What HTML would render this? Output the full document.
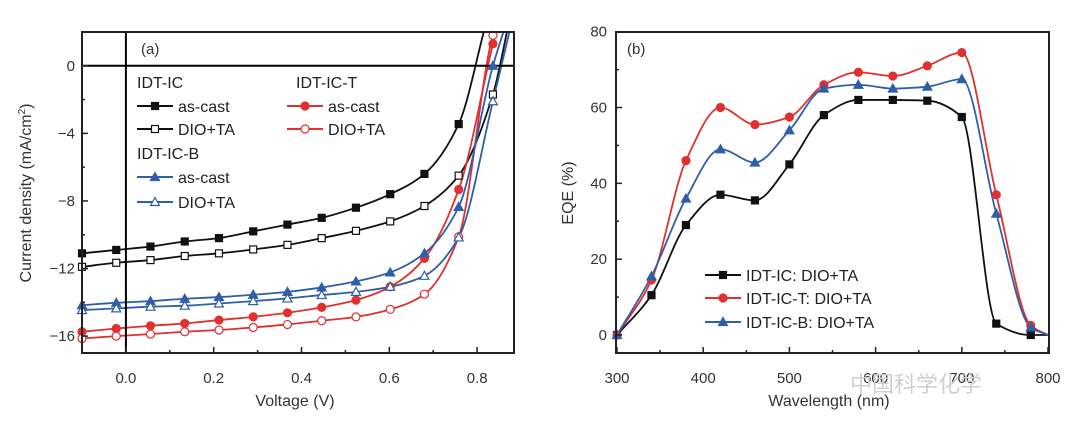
<!DOCTYPE html>
<html><head><meta charset="utf-8"><style>
body{margin:0;background:#fff;}
svg{display:block;font-family:"Liberation Sans","Noto Sans CJK SC",sans-serif;}
</style></head><body>
<svg id="chart" width="1080" height="433" viewBox="0 0 1080 433">
<rect x="0" y="0" width="1080" height="433" fill="#fff"/>
<g id="pa"></g>
<g id="pb"></g>
<text x="850" y="392" font-size="22" fill="#cfcfcf">中国科学化学</text>
</svg>
<script>
// Panel (a) data
const vMarkers = [-0.1,-0.022,0.056,0.134,0.212,0.29,0.368,0.446,0.524,0.602,0.68,0.758,0.836];
const jIcCast = [-11.1,-10.9,-10.7,-10.4,-10.2,-9.8,-9.4,-9.0,-8.4,-7.6,-6.4,-3.45];
const jIcDio = [-11.9,-11.66,-11.5,-11.26,-11.1,-10.87,-10.6,-10.2,-9.77,-9.21,-8.3,-6.5,-1.7];
const jTCast = [-15.74,-15.55,-15.39,-15.25,-15.05,-14.86,-14.62,-14.3,-13.87,-13.08,-11.4,-7.32,1.3];
const jTDio = [-16.14,-16.0,-15.88,-15.74,-15.64,-15.49,-15.31,-15.09,-14.86,-14.42,-13.52,-10.12,1.8];
const jBCast = [-14.17,-14.03,-13.93,-13.79,-13.69,-13.55,-13.38,-13.12,-12.76,-12.23,-11.1,-8.35,0];
const jBDio = [-14.46,-14.36,-14.26,-14.2,-14.07,-13.93,-13.77,-13.57,-13.38,-13.08,-12.43,-10.16,-2.1];
const tailV = [0.82,0.872,0.852,0.854,0.866,0.878];
const tailJ = [2.5,2.5,3,3,2.5,2.5];
const aXTicks = [0.0,0.2,0.4,0.6,0.8];
const aYTicks = [0,-4,-8,-12,-16];
// Panel (b) data
const wl = [300,340,380,420,460,500,540,580,620,660,700,740,780,800];
const eqeIc = [0,10.5,29,37,35.5,45,58,62,62,61.8,57.5,3,0,0];
const eqeT = [0,14.5,46,60,55.5,57.5,66,69.3,68.3,71,74.5,37,2.5,0];
const eqeB = [0,15.5,36,49,45.5,54,65,66,65,65.5,67.5,32,2,0];
const bXTicks = [300,400,500,600,700,800];
const bYTicks = [0,20,40,60,80];

const NS="http://www.w3.org/2000/svg";
function mk(parent,tag,attrs){const e=document.createElementNS(NS,tag);for(const k in attrs)e.setAttribute(k,attrs[k]);parent.appendChild(e);return e;}
function smooth(pts){
  const n=pts.length;const d=[],m=[];
  for(let i=0;i<n-1;i++)d.push((pts[i+1][1]-pts[i][1])/(pts[i+1][0]-pts[i][0]));
  for(let i=0;i<n;i++){
    if(i===0)m.push(d[0]);else if(i===n-1)m.push(d[n-2]);
    else if(d[i-1]*d[i]<=0)m.push(0);
    else{const h0=pts[i][0]-pts[i-1][0],h1=pts[i+1][0]-pts[i][0];const w1=2*h1+h0,w2=h1+2*h0;m.push((w1+w2)/(w1/d[i-1]+w2/d[i]));}
  }
  let s=`M${pts[0][0]},${pts[0][1]}`;
  for(let i=0;i<n-1;i++){const h=(pts[i+1][0]-pts[i][0])/3;
    s+=` C${pts[i][0]+h},${pts[i][1]+m[i]*h} ${pts[i+1][0]-h},${pts[i+1][1]-m[i+1]*h} ${pts[i+1][0]},${pts[i+1][1]}`;}
  return s;
}
function marker(g,type,x,y,color,filled){
  const f=filled?color:"#fff";let e;
  if(type==="sq") e=mk(g,"rect",{x:x-3.5,y:y-3.5,width:7,height:7,fill:f,stroke:color,"stroke-width":1.2});
  else if(type==="ci") e=mk(g,"circle",{cx:x,cy:y,r:4,fill:f,stroke:color,"stroke-width":1.2});
  else e=mk(g,"polygon",{points:`${x},${y-4.5} ${x+4.5},${y+3.5} ${x-4.5},${y+3.5}`,fill:f,stroke:color,"stroke-width":1.2});
  return e;
}
const BLK="#111",RED="#e03030",BLU="#2f5fa8";

// ---------- Panel A ----------
const A={l:82,r:514,t:32,b:353};
const ax=v=>A.l+(v-(-0.1))/(0.884+0.1)*(A.r-A.l);
const ay=j=>A.t+(2-j)/19*(A.b-A.t);
const pa=document.getElementById("pa");
mk(pa,"defs",{}).innerHTML='<clipPath id="clipA"><rect x="82" y="32" width="432" height="321"/></clipPath><clipPath id="clipB"><rect x="616" y="32" width="433" height="321"/></clipPath>';
const seriesA=[[jIcCast,BLK,"sq",true,0,"ic-as-cast"],[jIcDio,BLK,"sq",false,1,"ic-dio-ta"],[jTCast,RED,"ci",true,2,"ic-t-as-cast"],[jTDio,RED,"ci",false,3,"ic-t-dio-ta"],[jBCast,BLU,"tr",true,4,"ic-b-as-cast"],[jBDio,BLU,"tr",false,5,"ic-b-dio-ta"]];
const ga=mk(pa,"g",{"clip-path":"url(#clipA)"});
seriesA.forEach(([js,c,t,f,ti,nm])=>{
  const pts=js.map((j,i)=>[ax(vMarkers[i]),ay(j)]);pts.push([ax(tailV[ti]),ay(tailJ[ti])]);
  const p=mk(ga,"path",{d:smooth(pts),fill:"none",stroke:c,"stroke-width":1.8});
  
  
});
mk(pa,"line",{x1:ax(0),x2:ax(0),y1:A.t,y2:A.b,stroke:"#000","stroke-width":2});
mk(pa,"line",{x1:A.l,x2:A.r,y1:ay(0),y2:ay(0),stroke:"#000","stroke-width":2});
seriesA.forEach(([js,c,t,f,ti,nm])=>{js.forEach((j,i)=>{const m=marker(pa,t,ax(vMarkers[i]),ay(j),c,f);
  
  });});
mk(pa,"rect",{x:A.l,y:A.t,width:A.r-A.l,height:A.b-A.t,fill:"none",stroke:"#222","stroke-width":2});
for(let v=-0.1;v<=0.88;v+=0.1){const x=ax(v);const maj=Math.abs(Math.round(v*10)%2)===0;mk(pa,"line",{x1:x,x2:x,y1:A.b,y2:A.b-(maj?6:3),stroke:"#222","stroke-width":1.5});}
for(let j=-16;j<=2;j+=2){const y=ay(j);mk(pa,"line",{x1:A.l,x2:A.l+(j%4===0?6:3),y1:y,y2:y,stroke:"#222","stroke-width":1.5});}
aXTicks.forEach(v=>{const t=mk(pa,"text",{x:ax(v),y:383,"font-size":15,"text-anchor":"middle",fill:"#333"});t.textContent=v.toFixed(1);
  
  });
aYTicks.forEach(j=>{const t=mk(pa,"text",{x:75,y:ay(j)+5,"font-size":15,"text-anchor":"end",fill:"#333"});t.textContent=j===0?"0":"−"+(-j);
  
  });
let tt=mk(pa,"text",{x:295,y:406,"font-size":16,"text-anchor":"middle",fill:"#333",});tt.textContent="Voltage (V)";
tt=mk(pa,"text",{x:31,y:193,"font-size":16,"text-anchor":"middle",fill:"#333",transform:"rotate(-90 31 193)",});tt.innerHTML='Current density (mA/cm<tspan font-size="10" dy="-6">2</tspan><tspan dy="6">)</tspan>';
tt=mk(pa,"text",{x:141,y:54,"font-size":15,fill:"#333",});tt.textContent="(a)";
const legA=[[137,82,null,"IDT-IC"],[296,82,null,"IDT-IC-T"],[137,153,null,"IDT-IC-B"],[137,106,[BLK,"sq",true],"as-cast"],[137,129,[BLK,"sq",false],"DIO+TA"],[287,106,[RED,"ci",true],"as-cast"],[287,129,[RED,"ci",false],"DIO+TA"],[137,177,[BLU,"tr",true],"as-cast"],[137,202,[BLU,"tr",false],"DIO+TA"]];
legA.forEach(([x,y,m,s])=>{const g=mk(pa,"g",{});
  
  
  let tx=x;if(m){mk(g,"line",{x1:x,x2:x+36,y1:y,y2:y,stroke:m[0],"stroke-width":2});marker(g,m[1],x+18,y,m[0],m[2]);tx=x+41;}
  const t=mk(g,"text",{x:tx,y:y+6,"font-size":16,fill:"#222"});t.textContent=s;});

// ---------- Panel B ----------
const B={l:616,r:1049,t:32,b:353};
const bx=w=>617+(w-300)*0.862;
const by=e=>335-e*(335-31.7)/80;
const pb=document.getElementById("pb");
const gb=mk(pb,"g",{"clip-path":"url(#clipB)"});
const seriesB=[[eqeIc,BLK,"sq","idt-ic"],[eqeT,RED,"ci","idt-ic-t"],[eqeB,BLU,"tr","idt-ic-b"]];
seriesB.forEach(([es,c,t,nm])=>{const pts=es.map((e,i)=>[bx(wl[i]),by(e)]);
  const p=mk(gb,"path",{d:smooth(pts),fill:"none",stroke:c,"stroke-width":1.8});
  
  
  es.forEach((e,i)=>{if(i<es.length-1){const m=marker(pb,t,bx(wl[i]),by(e),c,true);
    
    }});});
mk(pb,"rect",{x:B.l,y:B.t,width:B.r-B.l,height:B.b-B.t,fill:"none",stroke:"#222","stroke-width":2});
for(let w=300;w<=800;w+=50){const x=bx(w);mk(pb,"line",{x1:x,x2:x,y1:B.b,y2:B.b-(w%100===0?6:3),stroke:"#222","stroke-width":1.5});}
for(let e=0;e<=80;e+=10){const y=by(e);mk(pb,"line",{x1:B.l,x2:B.l+(e%20===0?6:3),y1:y,y2:y,stroke:"#222","stroke-width":1.5});}
bXTicks.forEach(w=>{const t=mk(pb,"text",{x:bx(w),y:383,"font-size":15,"text-anchor":"middle",fill:"#333"});t.textContent=w;
  
  });
bYTicks.forEach(e=>{const t=mk(pb,"text",{x:607,y:by(e)+5,"font-size":15,"text-anchor":"end",fill:"#333"});t.textContent=e;
  
  });
tt=mk(pb,"text",{x:829,y:406,"font-size":16,"text-anchor":"middle",fill:"#333",});tt.textContent="Wavelength (nm)";
tt=mk(pb,"text",{x:573,y:193,"font-size":16,"text-anchor":"middle",fill:"#333",transform:"rotate(-90 573 193)",});tt.textContent="EQE (%)";
tt=mk(pb,"text",{x:627,y:54,"font-size":15,fill:"#333",});tt.textContent="(b)";
const legB=[[275,BLK,"sq","IDT-IC: DIO+TA"],[298,RED,"ci","IDT-IC-T: DIO+TA"],[322,BLU,"tr","IDT-IC-B: DIO+TA"]];
legB.forEach(([y,c,m,s])=>{const g=mk(pb,"g",{});
  
  
  mk(g,"line",{x1:705,x2:741,y1:y,y2:y,stroke:c,"stroke-width":2});marker(g,m,723,y,c,true);
  const t=mk(g,"text",{x:746,y:y+6,"font-size":16,fill:"#222"});t.textContent=s;});
</script>
</body></html>
